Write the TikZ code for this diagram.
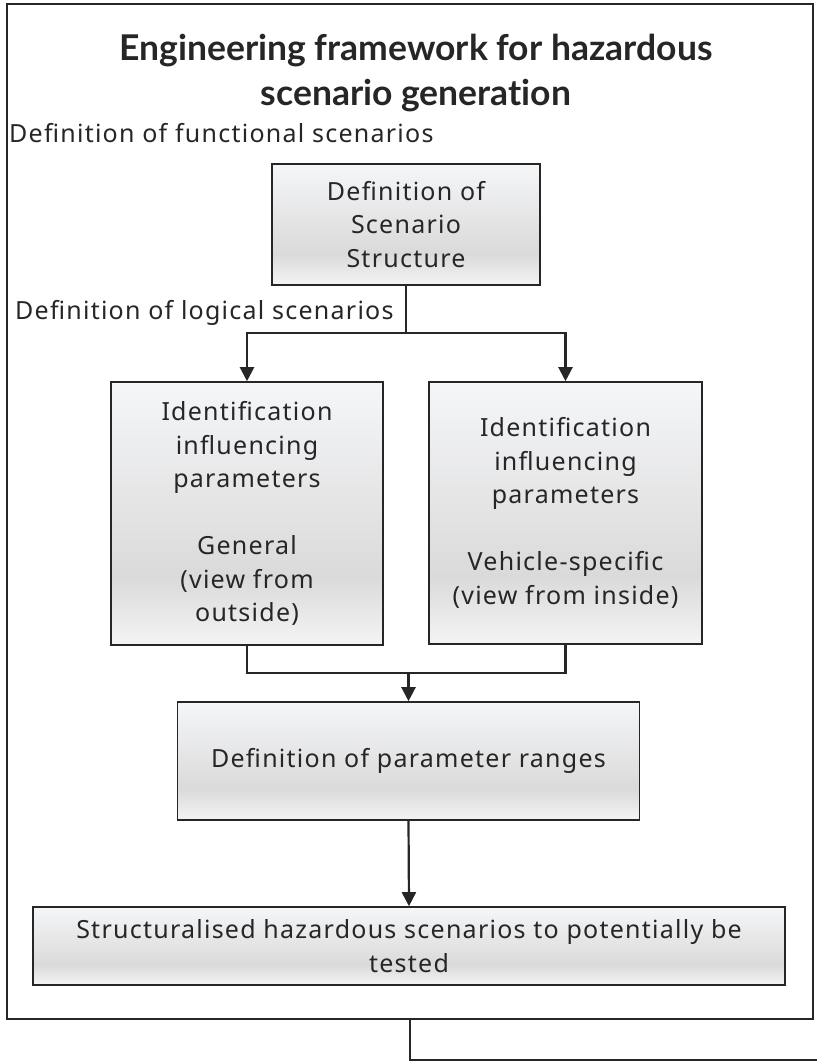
\documentclass[tikz,border=0pt]{standalone}
\usepackage{fontspec}
\setmainfont{Noto Sans}[LetterSpace=5]
\newfontfamily\titlefont{Lato}[Ligatures=NoCommon]
\usetikzlibrary{arrows.meta}

\definecolor{ink}{HTML}{262626}
\definecolor{shadetop}{HTML}{F5F6F8}
\definecolor{shademid}{HTML}{DADADA}
\definecolor{shadebot}{HTML}{F4F4F4}
\pgfdeclareverticalshading{boxshade}{100bp}{color(0bp)=(shadebot); color(25bp)=(shadebot); color(38bp)=(shademid); color(75bp)=(shadetop); color(100bp)=(shadetop)}
\newcommand{\bodyfont}{\fontsize{25}{33.5}\selectfont}

\begin{document}
\begin{tikzpicture}
    [x=1pt,y=-1pt,>={Triangle[width=14pt,length=14pt]},
     frame/.style={draw=ink,line width=1.8pt,inner sep=0pt},
     box/.style={draw=ink,line width=1.6pt,shading=boxshade,inner sep=0pt,align=center,font=\bodyfont,text=ink},
     lbl/.style={inner sep=0pt,font=\bodyfont,text=ink},
     wire/.style={draw=ink,line width=2.2pt}]

    \useasboundingbox (0,0) rectangle (816,1064);

    \node[frame,minimum width=806pt,minimum height=1015pt] (frame) at (410,511.5) {};
    \node[align=center,text=ink,font=\titlefont\bfseries\fontsize{35.5}{45}\selectfont] (title) at (416,73) {Engineering framework for hazardous\\scenario generation};

    \node[lbl,anchor=west] (functional) at (9,133) {Definition of functional scenarios};
    \node[box,minimum width=268pt,minimum height=121pt] (struct) at (406,224.5) {Definition of\\Scenario\\Structure};
    \node[lbl,anchor=west] (logical) at (15,313) {Definition of logical scenarios};

    \node[box,minimum width=272pt,minimum height=263pt] (general) at (247,513.5) {Identification\\influencing\\parameters\\[33.5pt]General\\(view from\\outside)};
    \node[box,minimum width=273pt,minimum height=262pt] (vehicle) at (565.5,513) {Identification\\influencing\\parameters\\[33.5pt]Vehicle-specific\\(view from inside)};

    \node[box,minimum width=462pt,minimum height=118pt] (ranges) at (408.5,761) {Definition of parameter ranges};
    \node[box,minimum width=752pt,minimum height=78pt] (tested) at (409,946) {Structuralised hazardous scenarios to potentially be\\tested};

    \coordinate (split) at (406,333);
    \coordinate (join) at (408.5,673);
    \coordinate (exit) at (818,1060);

    \draw[wire] (struct.south) -- (split);
    \draw[wire,->] (split) -| (general.north);
    \draw[wire,->] (split) -| (vehicle.north);
    \draw[wire] (general.south) |- (join);
    \draw[wire] (vehicle.south) |- (join);
    \draw[wire,->] (join) -- (ranges.north);
    \draw[wire,->] (ranges.south) -- (tested.north);
    \draw[wire] (frame.south) |- (exit);

\end{tikzpicture}
\end{document}
